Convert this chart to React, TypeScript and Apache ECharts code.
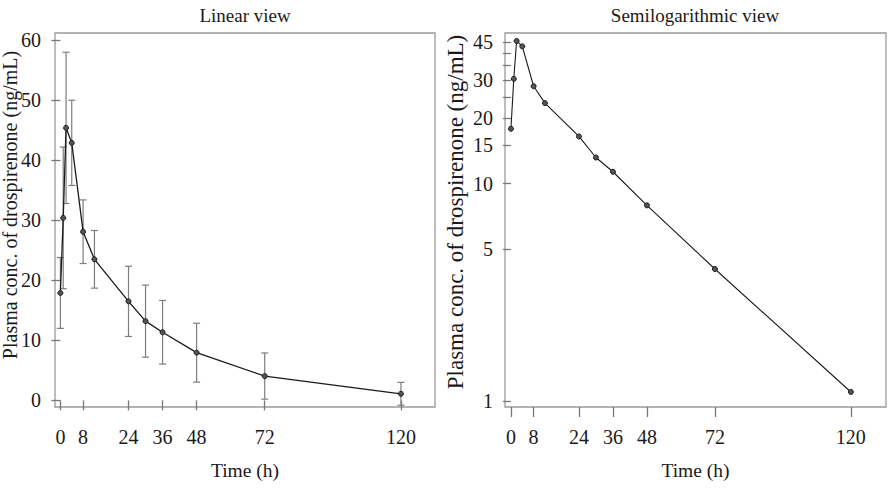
import React, { useEffect, useRef } from "react";
import * as echarts from "echarts";

// Mean plasma concentration of drospirenone over time, with SD
const timeHours = [0, 1, 2, 4, 8, 12, 24, 30, 36, 48, 72, 120];
const meanConc = [17.9, 30.4, 45.4, 42.9, 28.1, 23.5, 16.5, 13.2, 11.35, 7.95, 4.05, 1.1];
const sdConc = [5.9, 11.8, 12.6, 7.1, 5.3, 4.8, 5.85, 6.0, 5.3, 4.9, 3.85, 1.9];

const timeTicks = [0, 8, 24, 36, 48, 72, 120];
const linearTicks = [0, 10, 20, 30, 40, 50, 60];
const logTicks = [1, 5, 10, 15, 20, 25, 30, 35, 40, 45];
const logLabels = [1, 5, 10, 15, 20, 30, 45];

const FONT = "'Liberation Serif', 'Times New Roman', serif";
const INK = "#1a1a1a";
const FRAME = "#9a9a9a";
const Y_TITLE = "Plasma conc. of drospirenone (ng/mL)";

export default function App() {
  const ref = useRef<HTMLDivElement>(null);

  useEffect(() => {
    if (!ref.current) return;
    const chart = echarts.init(ref.current, undefined, { renderer: "svg" });

    const points = timeHours.map((t, i) => [t, meanConc[i]]);
    const bars = timeHours.map((t, i) => [t, meanConc[i] - sdConc[i], meanConc[i] + sdConc[i]]);

    const tickLabel = { fontFamily: FONT, fontSize: 20, color: INK };

    const xAxisBase = (gridIndex: number, min: number, max: number) => ({
      type: "value",
      gridIndex,
      min,
      max,
      axisLine: { show: false },
      splitLine: { show: false },
      axisTick: { show: true, length: 10, customValues: timeTicks, lineStyle: { color: "#777", width: 1.3 } },
      axisLabel: { ...tickLabel, margin: 20, customValues: timeTicks },
      name: "Time (h)",
      nameLocation: "middle",
      nameGap: 53,
      nameTextStyle: { fontFamily: FONT, fontSize: 19.5, color: INK },
    });

    const textStyle = (text: string, size: number) => ({
      text,
      font: `${size}px ${FONT}`,
      fill: INK,
      textAlign: "center",
      textVerticalAlign: "middle",
    });

    const option: any = {
      animation: false,
      backgroundColor: "#ffffff",
      grid: [
        { left: 55, right: 456, top: 33, bottom: 83, show: true, borderColor: FRAME, borderWidth: 1.3, backgroundColor: "transparent" },
        { left: 505, right: 5, top: 33, bottom: 83, show: true, borderColor: FRAME, borderWidth: 1.3, backgroundColor: "transparent" },
      ],
      graphic: [
        { type: "text", x: 245, y: 15, style: textStyle("Linear view", 19) },
        { type: "text", x: 695, y: 15, style: textStyle("Semilogarithmic view", 19) },
        { type: "text", x: 10, y: 205, rotation: Math.PI / 2, style: textStyle(Y_TITLE, 20) },
        { type: "text", x: 455, y: 212, rotation: Math.PI / 2, style: textStyle(Y_TITLE, 23) },
      ],
      xAxis: [xAxisBase(0, -1.9, 132), xAxisBase(1, -2.1, 132.4)],
      yAxis: [
        {
          type: "value",
          gridIndex: 0,
          min: -1.1,
          max: 61.2,
          axisLine: { show: false },
          splitLine: { show: false },
          axisTick: { show: true, length: 9, customValues: linearTicks, lineStyle: { color: "#777", width: 1.3 } },
          axisLabel: { ...tickLabel, margin: 14, customValues: linearTicks },
        },
        {
          type: "log",
          logBase: 10,
          gridIndex: 1,
          min: 0.938,
          max: 49.4,
          axisLine: { show: false },
          splitLine: { show: false },
          minorTick: { show: false },
          axisTick: { show: true, length: 8, customValues: logTicks, lineStyle: { color: "#777", width: 1.3 } },
          axisLabel: { ...tickLabel, margin: 12, customValues: logLabels },
        },
      ],
      series: [
        {
          type: "custom",
          xAxisIndex: 0,
          yAxisIndex: 0,
          data: bars,
          z: 1,
          renderItem: (_params: any, api: any) => {
            const t = api.value(0);
            const lo = api.coord([t, api.value(1)]);
            const hi = api.coord([t, api.value(2)]);
            const cap = 3.5;
            const style = { stroke: "#7d7d7d", lineWidth: 1.2 };
            return {
              type: "group",
              children: [
                { type: "line", shape: { x1: lo[0], y1: lo[1], x2: hi[0], y2: hi[1] }, style },
                { type: "line", shape: { x1: lo[0] - cap, y1: lo[1], x2: lo[0] + cap, y2: lo[1] }, style },
                { type: "line", shape: { x1: hi[0] - cap, y1: hi[1], x2: hi[0] + cap, y2: hi[1] }, style },
              ],
            };
          },
        },
        {
          type: "line",
          xAxisIndex: 0,
          yAxisIndex: 0,
          data: points,
          z: 3,
          symbol: "circle",
          symbolSize: 5,
          showSymbol: true,
          lineStyle: { color: INK, width: 1.3 },
          itemStyle: { color: "#555", borderColor: INK, borderWidth: 1 },
        },
        {
          type: "line",
          xAxisIndex: 1,
          yAxisIndex: 1,
          data: points,
          z: 3,
          symbol: "circle",
          symbolSize: 5,
          showSymbol: true,
          lineStyle: { color: INK, width: 1.1 },
          itemStyle: { color: "#555", borderColor: INK, borderWidth: 1 },
        },
      ],
    };

    chart.setOption(option);
    return () => chart.dispose();
  }, []);

  return <div ref={ref} style={{ position: "fixed", left: 0, top: 0, width: 891, height: 490 }} />;
}
